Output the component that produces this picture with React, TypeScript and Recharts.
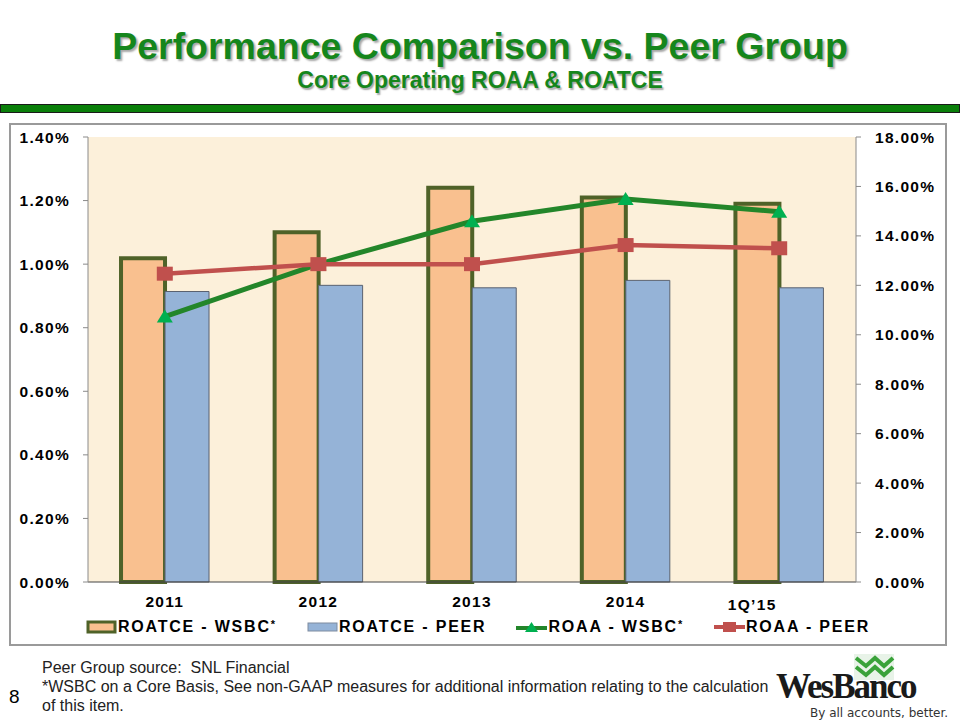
import React from "react";
import {
  ComposedChart,
  Bar,
  Line,
  XAxis,
  YAxis,
  CartesianGrid,
  Legend,
} from "recharts";

const categories = ["2011", "2012", "2013", "2014", "1Q’15"];
const roatceWsbc = [13.1, 14.15, 15.95, 15.55, 15.3];
const roatcePeer = [11.75, 12.0, 11.9, 12.2, 11.9];
const roaaWsbc = [0.835, 1.0, 1.135, 1.205, 1.165];
const roaaPeer = [0.97, 1.0, 1.0, 1.06, 1.05];
const leftTicks = [0, 0.2, 0.4, 0.6, 0.8, 1.0, 1.2, 1.4];
const rightTicks = [0, 2, 4, 6, 8, 10, 12, 14, 16, 18];
const legendOrder = ["roatceWsbc", "roatcePeer", "roaaWsbc", "roaaPeer"];

const data = categories.map((c, i) => ({
  name: c,
  roatceWsbc: roatceWsbc[i],
  roatcePeer: roatcePeer[i],
  roaaWsbc: roaaWsbc[i],
  roaaPeer: roaaPeer[i],
}));

const FONT = "Arial, 'Liberation Sans', sans-serif";

const COLORS = {
  wsbcFill: "#f9c08f",
  wsbcStroke: "#4f6228",
  peerFill: "#95b3d7",
  peerStroke: "#5a6270",
  roaaWsbc: "#23862a",
  roaaWsbcMarker: "#00b050",
  roaaPeer: "#c0504d",
};

const tickStyle = {
  fontFamily: FONT,
  fontSize: 15.5,
  fontWeight: 700,
  fill: "#000",
  letterSpacing: 1.3,
};

const XTick = (props: any) => {
  const { x, y, payload } = props;
  const shifted = payload.value === "1Q’15";
  return (
    <text
      x={x + (shifted ? -27 : 0)}
      y={y + (shifted ? 3 : 0)}
      dy="0.71em"
      textAnchor="middle"
      style={tickStyle}
    >
      {payload.value}
    </text>
  );
};

const Triangle = (props: any) => {
  const { cx, cy, index } = props;
  if (cx == null || cy == null) return null;
  return (
    <polygon
      key={`tri-${index}`}
      points={`${cx - 8},${cy + 6} ${cx + 8},${cy + 6} ${cx},${cy - 7}`}
      fill={COLORS.roaaWsbcMarker}
    />
  );
};

const Square = (props: any) => {
  const { cx, cy, index } = props;
  if (cx == null || cy == null) return null;
  return (
    <rect
      key={`sq-${index}`}
      x={cx - 8}
      y={cy - 7}
      width={16}
      height={14}
      fill={COLORS.roaaPeer}
    />
  );
};

const legendIcon = (key: string) => {
  if (key === "roatceWsbc")
    return (
      <svg width={31} height={14}>
        <rect x={2} y={2} width={27} height={10} fill={COLORS.wsbcFill} stroke={COLORS.wsbcStroke} strokeWidth={3} />
      </svg>
    );
  if (key === "roatcePeer")
    return (
      <svg width={31} height={14}>
        <rect x={1} y={3} width={29} height={8} fill={COLORS.peerFill} stroke="#7f8ca0" strokeWidth={1} />
      </svg>
    );
  if (key === "roaaWsbc")
    return (
      <svg width={31} height={14}>
        <line x1={0} y1={8} x2={31} y2={8} stroke={COLORS.roaaWsbc} strokeWidth={4} />
        <polygon points="9,12 22,12 15.5,2" fill={COLORS.roaaWsbcMarker} />
      </svg>
    );
  return (
    <svg width={31} height={14}>
      <line x1={0} y1={7} x2={31} y2={7} stroke={COLORS.roaaPeer} strokeWidth={4} />
      <rect x={9} y={2} width={13} height={10} fill={COLORS.roaaPeer} />
    </svg>
  );
};

const renderLegend = (props: any) => {
  const payload = [...(props.payload || [])].sort(
    (a: any, b: any) => legendOrder.indexOf(a.dataKey) - legendOrder.indexOf(b.dataKey)
  );
  return (
    <div
      style={{
        height: 34,
        boxSizing: "border-box",
        paddingTop: 10,
        display: "flex",
        justifyContent: "center",
        alignItems: "center",
        fontFamily: FONT,
        fontWeight: 700,
        fontSize: 16,
        letterSpacing: 1.8,
        color: "#000",
      }}
    >
      {payload.map((p: any, i: number) => (
        <div
          key={p.dataKey}
          style={{
            display: "flex",
            alignItems: "center",
            marginRight: i < payload.length - 1 ? 30 : 0,
          }}
        >
          {legendIcon(p.dataKey)}
          <span style={{ marginLeft: 1 }}>
            {String(p.value).replace("*", "")}
            {String(p.value).includes("*") && (
              <span style={{ fontSize: 11, verticalAlign: "4px" }}>*</span>
            )}
          </span>
        </div>
      ))}
    </div>
  );
};

const WesBancoLogo = () => (
  <div style={{ position: "absolute", left: 776, top: 652, width: 182, height: 68 }}>
    <svg width={60} height={30} style={{ position: "absolute", left: 74, top: 0 }}>
      <rect x={4} y={2} width={40} height={26} fill="#e8f3e8" />
      <polyline points="6,6 16,14 25,6 34,14 43,6" fill="none" stroke="#3aa23a" strokeWidth={4} />
      <polyline points="6,15 16,23 25,15 34,23 43,15" fill="none" stroke="#3aa23a" strokeWidth={4} />
    </svg>
    <div
      style={{
        position: "absolute",
        left: 0,
        top: 21,
        fontFamily: "'Liberation Serif', 'DejaVu Serif', serif",
        fontWeight: 700,
        fontSize: 35,
        letterSpacing: -2,
        color: "#1a1a1a",
        lineHeight: "28px",
        height: 28,
      }}
    >
      WesBanco
    </div>
    <div
      style={{
        position: "absolute",
        left: 34,
        top: 55,
        fontFamily: "'DejaVu Sans', sans-serif",
        fontSize: 12,
        lineHeight: "13px",
        color: "#333",
        whiteSpace: "nowrap",
      }}
    >
      By all accounts, better.
    </div>
  </div>
);

export default function App() {
  return (
    <div
      style={{
        position: "absolute",
        left: 0,
        top: 0,
        width: 960,
        height: 720,
        background: "#fff",
        overflow: "hidden",
        fontFamily: FONT,
      }}
    >
      <div
        style={{
          position: "absolute",
          left: 0,
          top: 26,
          width: 960,
          textAlign: "center",
          fontSize: 37.5,
          fontWeight: 700,
          color: "#15861c",
          textShadow: "2px 2px 2px rgba(0,0,0,0.35)",
          lineHeight: "40px",
        }}
      >
        Performance Comparison vs. Peer Group
      </div>
      <div
        style={{
          position: "absolute",
          left: 0,
          top: 66,
          width: 960,
          textAlign: "center",
          fontSize: 23,
          fontWeight: 700,
          color: "#15861c",
          textShadow: "1.5px 1.5px 1.5px rgba(0,0,0,0.35)",
          lineHeight: "28px",
        }}
      >
        Core Operating ROAA &amp; ROATCE
      </div>
      <div
        style={{
          position: "absolute",
          left: 0,
          top: 104,
          width: 958,
          height: 7,
          background: "#0a7f0a",
          border: "1px solid #1a1a1a",
        }}
      />
      <div
        style={{
          position: "absolute",
          left: 9,
          top: 123,
          width: 934,
          height: 519,
          border: "2px solid #9a9a9a",
          background: "#fff",
        }}
      />
      <div style={{ position: "absolute", left: 10, top: 124 }}>
        <ComposedChart
          width={936}
          height={521}
          data={data}
          margin={{ top: 13, right: 0, bottom: 6, left: 0 }}
          barCategoryGap="21.5%"
          barGap={0}
        >
          <CartesianGrid horizontal={false} vertical={false} fill="#fcf0da" />
          <XAxis
            dataKey="name"
            height={23}
            axisLine={{ stroke: "#444", strokeWidth: 1 }}
            tickLine={false}
            tickMargin={8}
            tick={<XTick />}
            interval={0}
          />
          <YAxis
            yAxisId="left"
            orientation="left"
            width={78}
            domain={[0, 1.4]}
            ticks={leftTicks}
            tickFormatter={(v: number) => `${v.toFixed(2)}%`}
            axisLine={{ stroke: "#8a8a8a" }}
            tickLine={{ stroke: "#8a8a8a" }}
            tickSize={5}
            tickMargin={13}
            tick={tickStyle}
          />
          <YAxis
            yAxisId="right"
            orientation="right"
            width={90}
            domain={[0, 18]}
            ticks={rightTicks}
            tickFormatter={(v: number) => `${v.toFixed(2)}%`}
            axisLine={{ stroke: "#8a8a8a" }}
            tickLine={{ stroke: "#8a8a8a" }}
            tickSize={5}
            tickMargin={14}
            tick={{ ...tickStyle, textAnchor: "start" }}
          />
          <Bar
            yAxisId="right"
            dataKey="roatceWsbc"
            name="ROATCE - WSBC*"
            fill={COLORS.wsbcFill}
            stroke={COLORS.wsbcStroke}
            strokeWidth={4}
            isAnimationActive={false}
          />
          <Bar
            yAxisId="right"
            dataKey="roatcePeer"
            name="ROATCE - PEER"
            fill={COLORS.peerFill}
            stroke={COLORS.peerStroke}
            strokeWidth={1}
            isAnimationActive={false}
          />
          <Line
            yAxisId="left"
            dataKey="roaaWsbc"
            name="ROAA - WSBC*"
            stroke={COLORS.roaaWsbc}
            strokeWidth={5}
            dot={<Triangle />}
            activeDot={false}
            isAnimationActive={false}
          />
          <Line
            yAxisId="left"
            dataKey="roaaPeer"
            name="ROAA - PEER"
            stroke={COLORS.roaaPeer}
            strokeWidth={4.5}
            dot={<Square />}
            activeDot={false}
            isAnimationActive={false}
          />
          <Legend verticalAlign="bottom" content={renderLegend} />
        </ComposedChart>
      </div>
      <div
        style={{
          position: "absolute",
          left: 42,
          top: 658,
          fontSize: 16,
          lineHeight: "19px",
          color: "#222",
          whiteSpace: "pre",
        }}
      >
        {"Peer Group source:  SNL Financial\n*WSBC on a Core Basis, See non-GAAP measures for additional information relating to the calculation\nof this item."}
      </div>
      <div
        style={{
          position: "absolute",
          left: 9,
          top: 686,
          fontSize: 19,
          lineHeight: "22px",
          color: "#000",
        }}
      >
        8
      </div>
      <WesBancoLogo />
    </div>
  );
}
